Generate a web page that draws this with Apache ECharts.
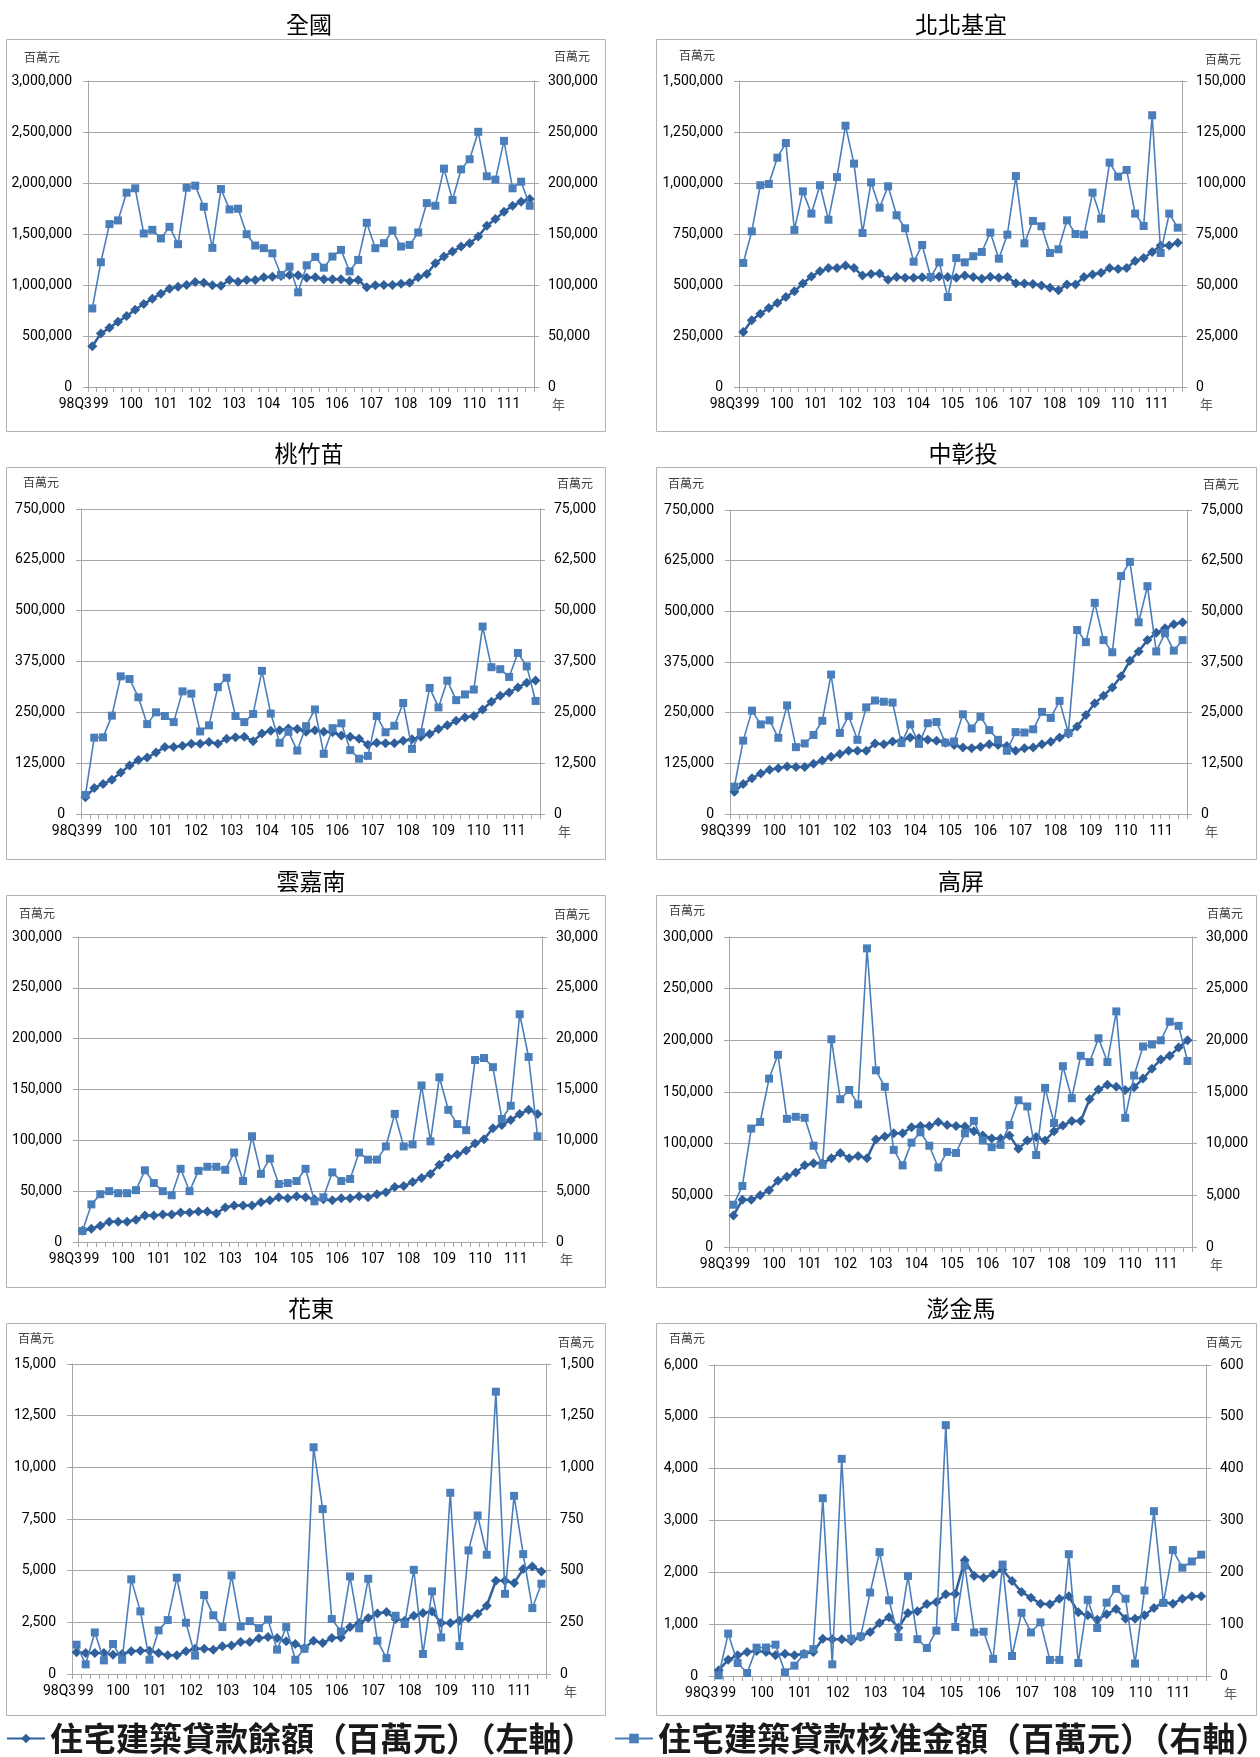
<!DOCTYPE html>
<html>
<head>
<meta charset="utf-8">
<script src="https://cdn.jsdelivr.net/npm/echarts@6/dist/echarts.min.js"></script>
<style>
  html, body { margin: 0; padding: 0; background: #fff; }
  #chart { width: 1260px; height: 1757px; }
</style>
</head>
<body>
<div id="chart"></div>
<script>
// x-axis tick labels (one per quarter, 98Q3 .. 111Q2)
const xLabels = ['98Q3', '99', '', '', '', '100', '', '', '', '101', '', '', '', '102', '', '', '',
    '103', '', '', '', '104', '', '', '', '105', '', '', '', '106', '', '', '', '107', '', '', '',
    '108', '', '', '', '109', '', '', '', '110', '', '', '', '111', '', ''];

// 住宅建築貸款餘額 (left axis) / 核准金額 (right axis), 百萬元
const natBal = [400000, 525000, 580000, 639000, 695000, 757000, 813000, 866000, 915000, 964000, 984000, 1000000, 1030000, 1023000, 997000, 993000, 1049000, 1033000, 1049000, 1049000, 1075000, 1082000, 1088000, 1098000, 1095000, 1072000, 1075000, 1056000, 1056000, 1056000, 1039000, 1049000, 977000, 997000, 1000000, 1000000, 1013000, 1023000, 1075000, 1108000, 1213000, 1279000, 1328000, 1377000, 1410000, 1475000, 1580000, 1646000, 1718000, 1777000, 1816000, 1843000];
const natApp = [77000, 122300, 159700, 163300, 190500, 194800, 150500, 154100, 145600, 157000, 140000, 195400, 197400, 176700, 136400, 194100, 174100, 174800, 149800, 138700, 136100, 131100, 109800, 118000, 92800, 119300, 127500, 117000, 127900, 134400, 113400, 124600, 161000, 136100, 141000, 153400, 137700, 139300, 151500, 180300, 177700, 214100, 183300, 213400, 223300, 250200, 206600, 203300, 241300, 194800, 201300, 177700];

const tpeBal = [270000, 327000, 359000, 387000, 412000, 441000, 469000, 507000, 542000, 567000, 583000, 583000, 595000, 583000, 546000, 554000, 556000, 526000, 539000, 536000, 536000, 538000, 536000, 542000, 539000, 536000, 547000, 539000, 531000, 541000, 536000, 539000, 508000, 507000, 505000, 498000, 487000, 474000, 503000, 503000, 539000, 551000, 560000, 583000, 578000, 583000, 618000, 632000, 662000, 694000, 694000, 707000];
const tpeApp = [60800, 76300, 98900, 99500, 112400, 119600, 77000, 95900, 85000, 98900, 82000, 102900, 128100, 109500, 75500, 100300, 87900, 98400, 84200, 77800, 61400, 69600, 53900, 61100, 44100, 63200, 61100, 64100, 66200, 75700, 62900, 74700, 103400, 70400, 81400, 78800, 65700, 67500, 81700, 75000, 74700, 95300, 82500, 110000, 103100, 106400, 85000, 78900, 133200, 65700, 85000, 78100];

const tcmBal = [41000, 64000, 74000, 84000, 102000, 119000, 133000, 139000, 151000, 165000, 165000, 168000, 173000, 173000, 177000, 173000, 185000, 188500, 190000, 179000, 198000, 205000, 206000, 210000, 209000, 202000, 206000, 202000, 201000, 193000, 190000, 185000, 170000, 175000, 174000, 174000, 180000, 184000, 190000, 197000, 209000, 218000, 229000, 238000, 241000, 257000, 276000, 291000, 299000, 311000, 323000, 328000];
const tcmApp = [4670, 18770, 18850, 24180, 33850, 33200, 28700, 22100, 25000, 24100, 22600, 30160, 29600, 20300, 21800, 31200, 33500, 24100, 22600, 24600, 35200, 24700, 17500, 20200, 15600, 21600, 25700, 14800, 21100, 22300, 15700, 13600, 14300, 24100, 20100, 21700, 27300, 16000, 20100, 31000, 26200, 32800, 28000, 29400, 30600, 46100, 36100, 35600, 33700, 39600, 36300, 27800];

const cctBal = [55000, 74000, 88000, 100000, 109000, 113000, 117000, 116000, 116000, 124000, 132000, 141000, 148000, 156000, 156000, 156000, 174000, 172000, 179000, 181000, 189000, 187000, 183000, 181000, 176000, 170000, 164000, 162000, 166000, 172000, 170000, 168000, 156000, 162000, 164000, 172000, 178000, 189000, 198000, 216000, 244000, 273000, 292000, 312000, 340000, 378000, 401000, 429000, 447000, 458000, 468000, 473000];
const cctApp = [6750, 18100, 25500, 22100, 23100, 18800, 26800, 16500, 17400, 19500, 23000, 34400, 20000, 24200, 18300, 26300, 28000, 27700, 27500, 17500, 22100, 17300, 22400, 22700, 17600, 17900, 24600, 21100, 24000, 20700, 18300, 15600, 20200, 20100, 20900, 25200, 23700, 27900, 20000, 45400, 42400, 52100, 42900, 39900, 58700, 62200, 47300, 56200, 40100, 44600, 40300, 42900];

const ycnBal = [11000, 13000, 16000, 20000, 20000, 20000, 22000, 26000, 26000, 27000, 27000, 29000, 29000, 30000, 30000, 28000, 34000, 36000, 36000, 36000, 39000, 41000, 44000, 43000, 45000, 44000, 42000, 42000, 41000, 43000, 43000, 45000, 44000, 47000, 49000, 54000, 55000, 59000, 63000, 67000, 76000, 83000, 86000, 90000, 97000, 101000, 112000, 115000, 120000, 126000, 130000, 126000];
const ycnApp = [1080, 3700, 4700, 5000, 4800, 4800, 5100, 7050, 5800, 5000, 4600, 7200, 5000, 7000, 7400, 7400, 7100, 8800, 6000, 10400, 6700, 8200, 5700, 5800, 6000, 7200, 4000, 4400, 6850, 6000, 6200, 8800, 8100, 8100, 9400, 12600, 9400, 9600, 15400, 9900, 16200, 13000, 11600, 11000, 17900, 18100, 17200, 12100, 13400, 22400, 18200, 10400];

const kpBal = [30600, 45700, 45700, 50000, 55000, 64000, 68000, 72000, 79000, 81000, 81000, 86000, 91000, 86000, 88000, 86000, 104000, 107000, 110000, 110000, 116000, 117000, 117000, 121000, 118000, 117000, 116500, 112000, 108000, 105000, 105000, 108000, 95000, 103000, 106500, 103000, 112000, 117500, 122000, 122000, 143000, 152500, 157000, 155000, 152000, 154500, 163000, 172500, 181500, 185000, 193000, 200000];
const kpApp = [4090, 5900, 11460, 12100, 16300, 18600, 12400, 12600, 12500, 9800, 7950, 20100, 14300, 15200, 13800, 28900, 17100, 15500, 9400, 7900, 10100, 11100, 9800, 7700, 9200, 9100, 11000, 12200, 10300, 9660, 9880, 11800, 14200, 13600, 8900, 15400, 12000, 17500, 14400, 18500, 17900, 20200, 17900, 22800, 12500, 16600, 19400, 19600, 20000, 21800, 21400, 18000];

const htBal = [1047, 1015, 1015, 1015, 934, 967, 1096, 1128, 1128, 1015, 902, 902, 1096, 1225, 1225, 1176, 1337, 1385, 1547, 1547, 1724, 1788, 1740, 1579, 1450, 1257, 1611, 1498, 1740, 1772, 2272, 2465, 2707, 2932, 2997, 2658, 2578, 2820, 2949, 3029, 2465, 2465, 2578, 2707, 2916, 3303, 4511, 4511, 4398, 5075, 5204, 4962];
const htApp = [141.8, 46.7, 201, 66, 145, 69, 458, 303, 69, 211, 261, 466, 248, 89, 382, 284, 227, 477, 230, 256, 222, 263, 118, 227, 69, 122, 1097, 798, 266, 206, 472, 221, 461, 161, 77, 282, 242, 504, 97, 400, 177, 877, 135, 598, 767, 577, 1366, 388, 862, 580, 319, 437];

const pkmBal = [109, 315, 399, 463, 482, 463, 399, 431, 399, 431, 463, 720, 707, 707, 675, 752, 849, 1023, 1132, 932, 1215, 1248, 1389, 1428, 1576, 1588, 2232, 1936, 1897, 1961, 2051, 1833, 1621, 1511, 1395, 1383, 1492, 1537, 1228, 1170, 1087, 1190, 1293, 1106, 1106, 1170, 1312, 1428, 1395, 1492, 1537, 1537];
const pkmApp = [1.3, 81.7, 25, 5.8, 54.7, 55, 60.5, 7, 20, 42, 52, 343, 22.5, 419, 72, 76.5, 161, 239, 146, 75, 193, 71, 54, 87.5, 484, 94.5, 213, 84, 85.5, 33, 215, 38.6, 122, 84, 103.5, 31, 31, 235, 25, 147, 92.6, 141.5, 168, 149, 24, 165, 318, 141, 243, 209, 221, 234];

const balName = '住宅建築貸款餘額（百萬元）（左軸）';
const appName = '住宅建築貸款核准金額（百萬元）（右軸）';

// box = panel frame [x,y,w,h], grid = plot [left,top,width,height], tc = title centre,
// un = unit-label offsets [left dx, left dy, right dx, right dy]
const panels = [
    { title: '全國', bal: natBal, app: natApp, lMax: 3000000, lInt: 500000, rMax: 300000, rInt: 50000,
      box: [6, 39, 599, 392], grid: [88, 81, 446, 306], tc: [304, 21], un: [28, 24, 20, 25] },
    { title: '北北基宜', bal: tpeBal, app: tpeApp, lMax: 1500000, lInt: 250000, rMax: 150000, rInt: 25000,
      box: [656, 39, 600, 392], grid: [739, 81, 443, 306], tc: [956, 21], un: [24, 26, 23, 22] },
    { title: '桃竹苗', bal: tcmBal, app: tcmApp, lMax: 750000, lInt: 125000, rMax: 75000, rInt: 12500,
      box: [6, 467, 599, 392], grid: [81, 509, 459, 305], tc: [304, 450], un: [22, 27, 17, 26] },
    { title: '中彰投', bal: cctBal, app: cctApp, lMax: 750000, lInt: 125000, rMax: 75000, rInt: 12500,
      box: [656, 467, 600, 392], grid: [730, 510, 457, 304], tc: [958, 450], un: [26, 27, 16, 26] },
    { title: '雲嘉南', bal: ycnBal, app: ycnApp, lMax: 300000, lInt: 50000, rMax: 30000, rInt: 5000,
      box: [6, 895, 599, 392], grid: [78, 937, 464, 305], tc: [306, 878], un: [23, 24, 12, 23] },
    { title: '高屏', bal: kpBal, app: kpApp, lMax: 300000, lInt: 50000, rMax: 30000, rInt: 5000,
      box: [656, 895, 600, 392], grid: [729, 937, 463, 310], tc: [956, 878], un: [24, 27, 15, 24] },
    { title: '花東', bal: htBal, app: htApp, lMax: 15000, lInt: 2500, rMax: 1500, rInt: 250,
      box: [6, 1323, 599, 392], grid: [72, 1364, 474, 310], tc: [306, 1305], un: [18, 26, 12, 22] },
    { title: '澎金馬', bal: pkmBal, app: pkmApp, lMax: 6000, lInt: 1000, rMax: 600, rInt: 100,
      box: [656, 1323, 600, 392], grid: [714, 1365, 492, 311], tc: [956, 1305], un: [9, 27, 0, 23] }
];

const numFont = 'Roboto, "Liberation Sans", sans-serif';
const cjkFont = '"Noto Sans CJK TC", "Noto Sans CJK SC", sans-serif';
const gridColor = '#A6A6A6';
const balColor = '#30609C';
const appColor = '#4A7EBB';
const fmt = v => Number(v).toLocaleString('en-US');

const chart = echarts.init(document.getElementById('chart'));

const titles = [], grids = [], xAxes = [], yAxes = [], series = [], graphics = [];

panels.forEach((p, i) => {
    titles.push({
        text: p.title, left: p.tc[0], top: p.tc[1] - 13, textAlign: 'center',
        textStyle: { fontFamily: cjkFont, fontSize: 23, fontWeight: 'normal', color: '#000' }
    });
    grids.push({
        left: p.grid[0], top: p.grid[1], width: p.grid[2], height: p.grid[3],
        containLabel: false, outerBoundsMode: 'none'
    });
    graphics.push({
        type: 'rect', silent: true,
        shape: { x: p.box[0] + 0.5, y: p.box[1] + 0.5, width: p.box[2], height: p.box[3] },
        style: { fill: 'none', stroke: '#B3B3B3', lineWidth: 1 }
    });
    xAxes.push({
        type: 'category', gridIndex: i, data: xLabels, boundaryGap: true,
        name: '年', nameLocation: 'end', nameGap: 18,
        nameTextStyle: { fontFamily: cjkFont, fontSize: 13, color: '#595959', verticalAlign: 'top', padding: [11, 0, 0, 0] },
        axisLine: { show: true, lineStyle: { color: gridColor, width: 1 } },
        axisTick: { show: true, interval: 0, length: 5, lineStyle: { color: gridColor } },
        axisLabel: {
            interval: 0, margin: 10, color: '#000', fontFamily: numFont, fontSize: 14,
            formatter: (v, idx) => {
                if (!v) return '';
                if (idx === 0) return '{f|' + v + '}';
                if (idx === 1) return v;
                return '{y|' + v + '}';
            },
            rich: {
                f: { fontFamily: numFont, fontSize: 14, color: '#000', padding: [0, 34, 0, 0] },
                y: { fontFamily: numFont, fontSize: 14, color: '#000', padding: [0, 8, 0, 0] }
            }
        },
        splitLine: { show: false }
    });
    yAxes.push({
        type: 'value', gridIndex: i, position: 'left', min: 0, max: p.lMax, interval: p.lInt,
        name: '百萬元', nameLocation: 'end', nameGap: p.un[1],
        nameTextStyle: { fontFamily: cjkFont, fontSize: 12, color: '#404040', align: 'right', verticalAlign: 'middle', padding: [0, p.un[0], 0, 0] },
        axisLine: { show: true, lineStyle: { color: gridColor, width: 1 } },
        axisTick: { show: true, length: 5, lineStyle: { color: gridColor } },
        axisLabel: { margin: 16, color: '#000', fontFamily: numFont, fontSize: 14, formatter: fmt },
        splitLine: { show: true, lineStyle: { color: gridColor, width: 1 } }
    });
    yAxes.push({
        type: 'value', gridIndex: i, position: 'right', min: 0, max: p.rMax, interval: p.rInt,
        name: '百萬元', nameLocation: 'end', nameGap: p.un[3],
        nameTextStyle: { fontFamily: cjkFont, fontSize: 12, color: '#404040', align: 'left', verticalAlign: 'middle', padding: [0, 0, 0, p.un[2]] },
        axisLine: { show: true, lineStyle: { color: gridColor, width: 1 } },
        axisTick: { show: true, length: 5, lineStyle: { color: gridColor } },
        axisLabel: { margin: 14, color: '#000', fontFamily: numFont, fontSize: 14, formatter: fmt },
        splitLine: { show: false }
    });
    series.push({
        name: balName, type: 'line', xAxisIndex: i, yAxisIndex: i * 2, data: p.bal,
        symbol: 'diamond', symbolSize: 10, z: 2,
        itemStyle: { color: balColor },
        lineStyle: { color: balColor, width: 2.5 },
        animation: false
    });
    series.push({
        name: appName, type: 'line', xAxisIndex: i, yAxisIndex: i * 2 + 1, data: p.app,
        symbol: 'rect', symbolSize: 8, z: 3,
        itemStyle: { color: appColor },
        lineStyle: { color: appColor, width: 1.6 },
        animation: false
    });
});

const legendText = { fontFamily: cjkFont, fontSize: 33, fontWeight: 'bold', color: '#1a1a1a' };

chart.setOption({
    backgroundColor: '#fff',
    animation: false,
    title: titles,
    grid: grids,
    xAxis: xAxes,
    yAxis: yAxes,
    series: series,
    graphic: graphics,
    legend: [
        { data: [balName], left: 6, top: 1722, itemWidth: 38, itemHeight: 12, itemGap: 4, padding: 0, textStyle: legendText },
        { data: [appName], left: 614, top: 1722, itemWidth: 38, itemHeight: 12, itemGap: 4, padding: 0, textStyle: legendText }
    ]
});
</script>
</body>
</html>
